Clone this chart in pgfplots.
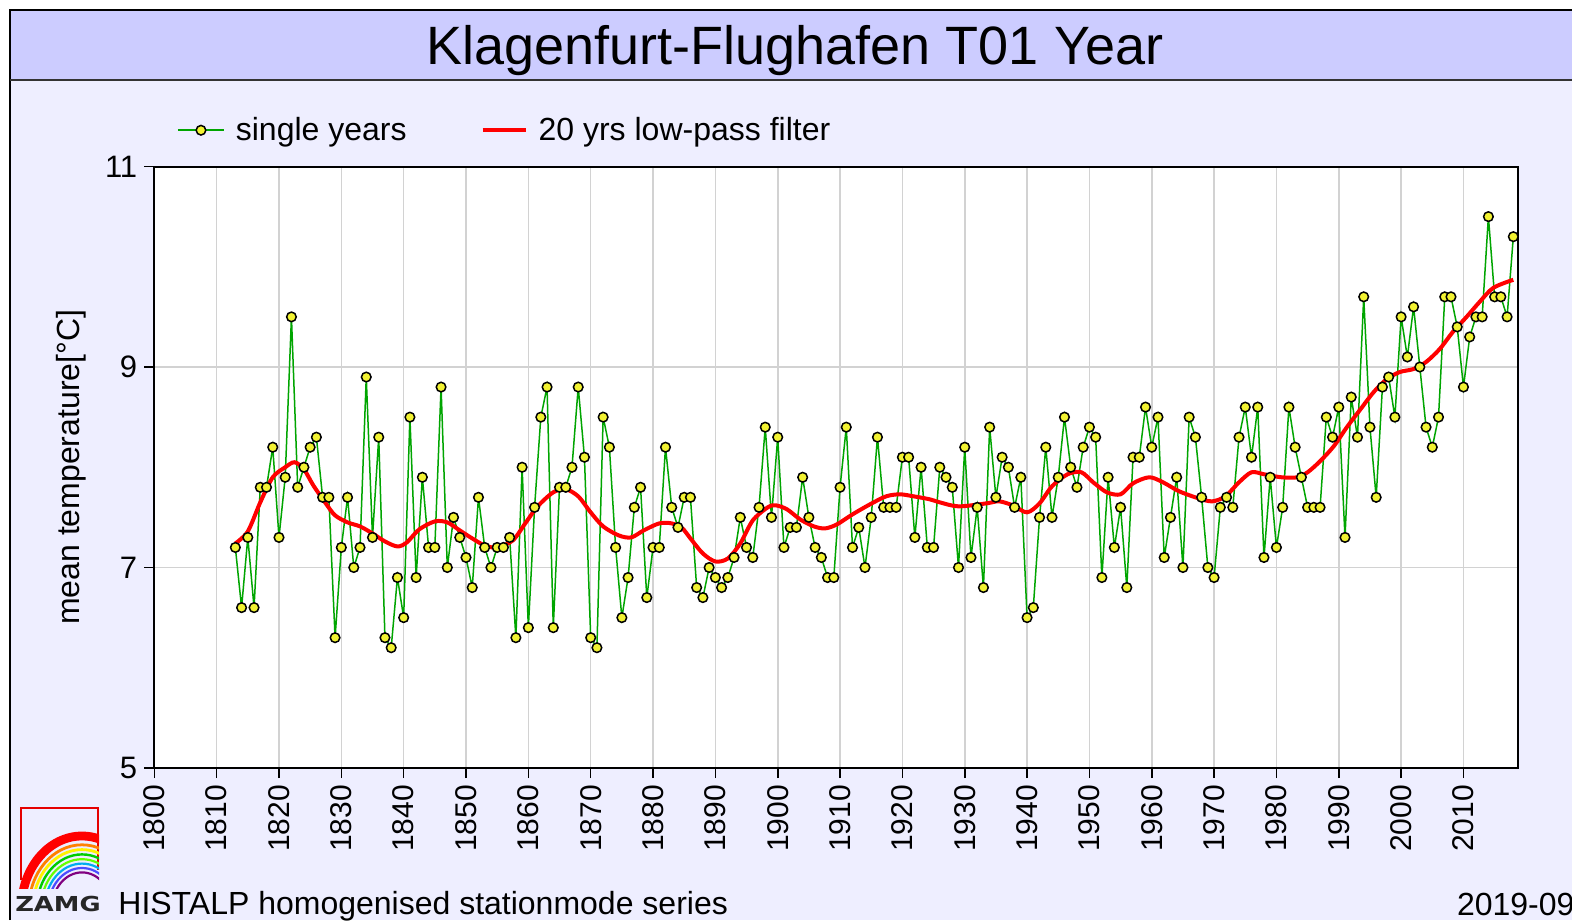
\documentclass[border=0pt]{standalone}
\usepackage{graphicx}
\usepackage{pgfplots}
\usepackage{pgfplotstable}
\pgfplotsset{compat=1.18}
\usepackage{fontspec}
\setmainfont{Liberation Sans}
\newfontfamily\logofont{DejaVu Sans}
\definecolor{bandcol}{RGB}{204,204,255}
\definecolor{bgcol}{RGB}{238,238,255}
\definecolor{gridcol}{RGB}{210,210,210}
\definecolor{lgreen}{RGB}{0,165,0}
\definecolor{myyellow}{RGB}{242,242,50}

\pgfplotstableread{
year t
1813 7.2
1814 6.6
1815 7.3
1816 6.6
1817 7.8
1818 7.8
1819 8.2
1820 7.3
1821 7.9
1822 9.5
1823 7.8
1824 8.0
1825 8.2
1826 8.3
1827 7.7
1828 7.7
1829 6.3
1830 7.2
1831 7.7
1832 7.0
1833 7.2
1834 8.9
1835 7.3
1836 8.3
1837 6.3
1838 6.2
1839 6.9
1840 6.5
1841 8.5
1842 6.9
1843 7.9
1844 7.2
1845 7.2
1846 8.8
1847 7.0
1848 7.5
1849 7.3
1850 7.1
1851 6.8
1852 7.7
1853 7.2
1854 7.0
1855 7.2
1856 7.2
1857 7.3
1858 6.3
1859 8.0
1860 6.4
1861 7.6
1862 8.5
1863 8.8
1864 6.4
1865 7.8
1866 7.8
1867 8.0
1868 8.8
1869 8.1
1870 6.3
1871 6.2
1872 8.5
1873 8.2
1874 7.2
1875 6.5
1876 6.9
1877 7.6
1878 7.8
1879 6.7
1880 7.2
1881 7.2
1882 8.2
1883 7.6
1884 7.4
1885 7.7
1886 7.7
1887 6.8
1888 6.7
1889 7.0
1890 6.9
1891 6.8
1892 6.9
1893 7.1
1894 7.5
1895 7.2
1896 7.1
1897 7.6
1898 8.4
1899 7.5
1900 8.3
1901 7.2
1902 7.4
1903 7.4
1904 7.9
1905 7.5
1906 7.2
1907 7.1
1908 6.9
1909 6.9
1910 7.8
1911 8.4
1912 7.2
1913 7.4
1914 7.0
1915 7.5
1916 8.3
1917 7.6
1918 7.6
1919 7.6
1920 8.1
1921 8.1
1922 7.3
1923 8.0
1924 7.2
1925 7.2
1926 8.0
1927 7.9
1928 7.8
1929 7.0
1930 8.2
1931 7.1
1932 7.6
1933 6.8
1934 8.4
1935 7.7
1936 8.1
1937 8.0
1938 7.6
1939 7.9
1940 6.5
1941 6.6
1942 7.5
1943 8.2
1944 7.5
1945 7.9
1946 8.5
1947 8.0
1948 7.8
1949 8.2
1950 8.4
1951 8.3
1952 6.9
1953 7.9
1954 7.2
1955 7.6
1956 6.8
1957 8.1
1958 8.1
1959 8.6
1960 8.2
1961 8.5
1962 7.1
1963 7.5
1964 7.9
1965 7.0
1966 8.5
1967 8.3
1968 7.7
1969 7.0
1970 6.9
1971 7.6
1972 7.7
1973 7.6
1974 8.3
1975 8.6
1976 8.1
1977 8.6
1978 7.1
1979 7.9
1980 7.2
1981 7.6
1982 8.6
1983 8.2
1984 7.9
1985 7.6
1986 7.6
1987 7.6
1988 8.5
1989 8.3
1990 8.6
1991 7.3
1992 8.7
1993 8.3
1994 9.7
1995 8.4
1996 7.7
1997 8.8
1998 8.9
1999 8.5
2000 9.5
2001 9.1
2002 9.6
2003 9.0
2004 8.4
2005 8.2
2006 8.5
2007 9.7
2008 9.7
2009 9.4
2010 8.8
2011 9.3
2012 9.5
2013 9.5
2014 10.5
2015 9.7
2016 9.7
2017 9.5
2018 10.3
}\singleyears

\pgfplotstableread{
year t
1813 7.24
1815 7.36
1817 7.65
1819 7.90
1821 8.00
1822.5 8.05
1824 7.98
1825.5 7.82
1827.5 7.64
1829 7.52
1831 7.45
1833 7.41
1835 7.34
1837 7.26
1839 7.21
1840.5 7.25
1842.5 7.38
1845 7.46
1847 7.45
1849 7.37
1851 7.29
1853 7.22
1855 7.20
1857.5 7.27
1859.5 7.44
1861.5 7.61
1864 7.75
1866 7.78
1868 7.71
1870 7.55
1872 7.41
1874.5 7.32
1876.5 7.30
1878.5 7.37
1881 7.44
1883 7.44
1884.7 7.39
1886 7.29
1888 7.14
1890 7.06
1892 7.09
1894 7.24
1896 7.47
1898.4 7.60
1899.7 7.62
1901.5 7.58
1903.6 7.48
1905.8 7.41
1907.6 7.39
1909.5 7.43
1912 7.53
1914.8 7.63
1917.4 7.71
1919.6 7.73
1921.8 7.71
1924.4 7.68
1926 7.65
1929 7.61
1933.5 7.64
1935.5 7.66
1937.7 7.62
1940 7.55
1942 7.64
1944 7.81
1946.5 7.93
1948.7 7.95
1950.6 7.85
1952.8 7.75
1955 7.73
1957 7.84
1959.6 7.90
1961.8 7.85
1964.4 7.76
1967.5 7.69
1969.7 7.66
1971.8 7.71
1974 7.85
1976 7.95
1978 7.93
1980.8 7.90
1983.4 7.90
1985 7.95
1987 8.06
1989.2 8.21
1991.3 8.40
1993.5 8.58
1995.6 8.75
1997.7 8.88
1999.8 8.95
2002 8.98
2004 9.05
2006.2 9.18
2008.3 9.35
2010.5 9.50
2012.6 9.65
2014.8 9.79
2018 9.87
}\lowpass

\begin{document}
\begin{tikzpicture}
\useasboundingbox (0,0) rectangle (786pt,460pt);
\fill[white] (0,0) rectangle (786pt,460pt);
\fill[bgcol] (5pt,0) rectangle (786pt,455pt);
\fill[bandcol] (5pt,420pt) rectangle (786pt,455pt);
\draw[line width=1.3pt] (5pt,0) -- (5pt,455pt) -- (786pt,455pt);
\draw[line width=1.2pt, black!80] (5pt,420pt) -- (786pt,420pt);
\node[anchor=base, font=\fontsize{27}{30}\selectfont, inner sep=0pt] at (397.5pt,427.5pt) {Klagenfurt-Flughafen T01 Year};

% logo
\begin{scope}
\clip (9pt,16pt) rectangle (49.5pt,57pt);
\draw[red!90!black, line width=1pt] (10.35pt,20pt) -- (10.35pt,56pt) -- (48.85pt,56pt) -- (48.85pt,25pt);
\foreach \ry/\col/\w in {36/red/4.4pt, 31.6/orange/1.4pt, 29.2/yellow/1.4pt, 26.8/green!80!black/1.2pt, 24.4/green!60!yellow/1.1pt, 22.2/cyan/1.1pt, 20/blue!70/1.1pt, 17.8/violet/1.1pt}{
  \draw[\col, line width=\w] (41pt,6pt) ++(180:{0.84*\ry pt} and {\ry pt}) arc[start angle=180, end angle=0, x radius={0.84*\ry pt}, y radius={\ry pt}];
}
\end{scope}
\node[font=\logofont\bfseries\fontsize{10.3}{10.3}\selectfont, text=black!85, inner sep=0pt] at (29pt,7.8pt) {\scalebox{1.25}[1]{ZAMG}};

\node[anchor=base west, font=\fontsize{16}{16}\selectfont, inner sep=0pt] at (59pt,3pt) {HISTALP homogenised stationmode series};
\node[anchor=base west, font=\fontsize{16}{16}\selectfont, inner sep=0pt] at (728.3pt,2.5pt) {2019-09};

\begin{axis}[
  at={(77.15pt,76pt)}, anchor=south west,
  scale only axis, width=682pt, height=300.75pt,
  xmin=1800, xmax=2018.8, ymin=5, ymax=11,
  xtick={1800,1810,...,2010}, ytick={5,7,9,11},
  grid=major, major grid style={gridcol, line width=0.8pt},
  axis line style={line width=1pt},
  tick align=outside, major tick length=5pt,
  every tick/.style={black, line width=0.8pt},
  xtick pos=left, ytick pos=left,
  axis background/.style={fill=white},
  /pgf/number format/assume math mode=true,
  /pgf/number format/1000 sep={},
  x tick label style={rotate=90, anchor=east, font=\fontsize{15}{15}\selectfont},
  y tick label style={font=\fontsize{15.5}{15.5}\selectfont},
  ylabel={mean temperature[°C]},
  ylabel style={font=\fontsize{16}{16}\selectfont, at={(axis description cs:-0.0611,0.5)}, anchor=center},
  legend columns=2,
  legend cell align=left,
  legend style={draw=none, fill=none, at={(axis description cs:0.0164,1.0603)}, anchor=west,
    font=\fontsize{16}{16}\selectfont, inner sep=0pt},
  /tikz/every odd column/.append style={column sep=3.5pt},
  /tikz/every even column/.append style={column sep=35pt},
]
\addplot[lgreen, line width=0.75pt, forget plot] table[x=year,y=t]{\singleyears};
\addplot[red, line width=2pt, smooth, forget plot] table[x=year,y=t]{\lowpass};
\addplot[only marks, mark=*, mark size=2.4pt, mark options={fill=myyellow, draw=black, line width=0.75pt}, forget plot] table[x=year,y=t]{\singleyears};
\addlegendimage{legend image code/.code={\draw[lgreen, line width=0.9pt, mark=*, mark size=2.4pt, mark options={fill=myyellow, draw=black, line width=0.75pt}, mark repeat=2, mark phase=2] plot coordinates {(0pt,0pt) (11.5pt,0pt) (23pt,0pt)};}}
\addlegendentry{single years}
\addlegendimage{legend image code/.code={\draw[red, line width=2pt] (0pt,0pt) -- (21.5pt,0pt);}}
\addlegendentry{20 yrs low-pass filter}
\end{axis}
\end{tikzpicture}
\end{document}
